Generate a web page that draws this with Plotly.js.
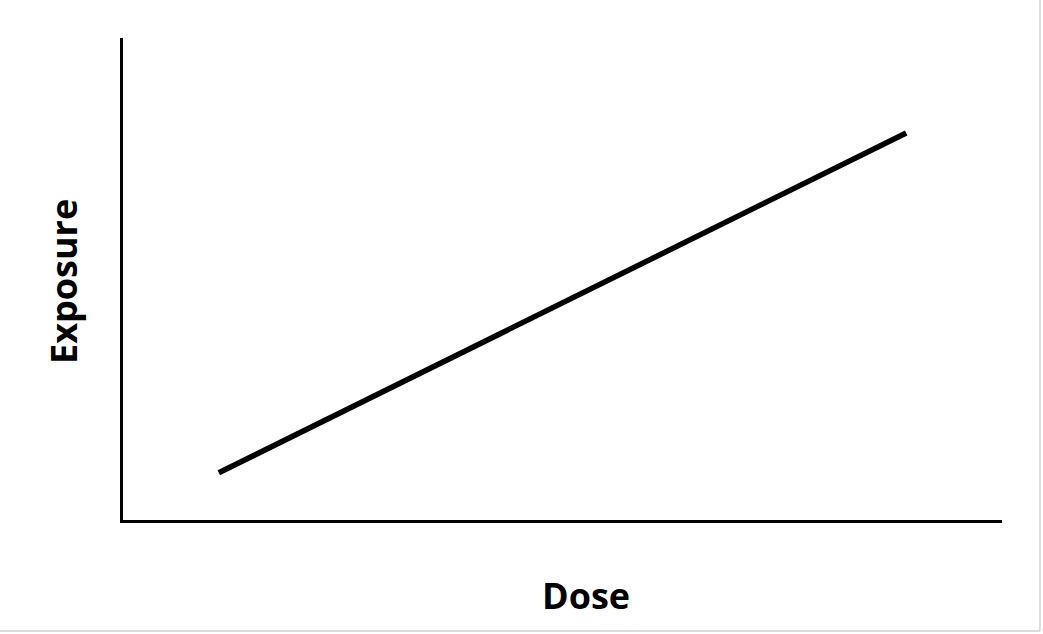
<!DOCTYPE html>
<html>
<head>
<meta charset="utf-8">
<script src="https://cdn.plot.ly/plotly-3.0.1.min.js"></script>
<style>html,body{margin:0;padding:0;background:#fff;}#chart{width:1043px;height:634px;}</style>
</head>
<body>
<div id="chart"></div>
<script>
var dose = [1.09, 8.91];
var exposure = [0.98, 8.03];
var xLabel = "Dose";
var yLabel = "Exposure";

var W = 1043, H = 634;
var mL = 123, mR = 41, mT = 38, mB = 114;
function px(xp){ return (xp - mL) / (W - mL - mR); }
function py(yp){ return (H - mB - yp) / (H - mT - mB); }

var trace = {
  x: dose, y: exposure, type: 'scatter', mode: 'lines',
  line: {color: '#000000', width: 5.5}, hoverinfo: 'none', showlegend: false
};

var layout = {
  width: W, height: H,
  margin: {l: mL, r: mR, t: mT, b: mB, pad: 0},
  paper_bgcolor: '#ffffff', plot_bgcolor: '#ffffff',
  font: {family: '"Open Sans", sans-serif', color: '#000'},
  xaxis: {range: [0, 10], showline: true, linecolor: '#000', linewidth: 3,
          showgrid: false, zeroline: false, showticklabels: false, ticks: '', fixedrange: true},
  yaxis: {range: [0, 10], showline: true, linecolor: '#000', linewidth: 3,
          showgrid: false, zeroline: false, showticklabels: false, ticks: '', fixedrange: true},
  annotations: [
    {text: '<b>' + xLabel + '</b>', xref: 'paper', yref: 'paper', x: px(586), y: py(595),
     xanchor: 'center', yanchor: 'middle', showarrow: false,
     font: {family: '"Open Sans", sans-serif', size: 36, color: '#000'}},
    {text: '<b>' + yLabel + '</b>', xref: 'paper', yref: 'paper', x: px(63), y: py(282),
     xanchor: 'center', yanchor: 'middle', showarrow: false, textangle: -90,
     font: {family: '"Open Sans", sans-serif', size: 36, color: '#000'}}
  ],
  shapes: [
    {type: 'line', xref: 'paper', yref: 'paper', x0: px(1040), x1: px(1040), y0: py(0), y1: py(631),
     line: {color: '#dddddd', width: 2}},
    {type: 'line', xref: 'paper', yref: 'paper', x0: px(0), x1: px(1040), y0: py(631), y1: py(631),
     line: {color: '#dddddd', width: 2}}
  ]
};

Plotly.newPlot('chart', [trace], layout, {displayModeBar: false, staticPlot: true});
</script>
</body>
</html>
